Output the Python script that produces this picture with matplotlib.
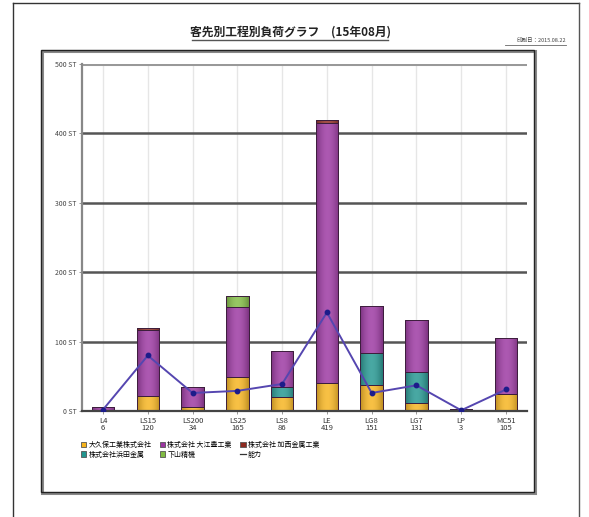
import numpy as np
import matplotlib
matplotlib.use('Agg')
import matplotlib.pyplot as plt
from matplotlib.lines import Line2D
from matplotlib.patches import Rectangle, Patch
from matplotlib.colors import to_rgb

plt.rcParams['font.family'] = ['Noto Sans CJK JP', 'DejaVu Sans']

# 品目と合計
items = ['L4', 'LS15', 'LS200', 'LS25', 'LS8', 'LE', 'LG8', 'LG7', 'LP', 'MC51']
totals = [6, 120, 34, 165, 86, 419, 151, 131, 3, 105]

# 客先別の負荷 (下から積み上げ)
okubo = [0, 22, 6, 49, 20, 41, 37, 12, 0, 25]
hamada = [0, 0, 0, 0, 14, 0, 47, 44, 0, 0]
oe = [6, 94, 28, 101, 52, 374, 67, 75, 3, 80]
kasai = [0, 4, 0, 0, 0, 4, 0, 0, 0, 0]
shimoyama = [0, 0, 0, 15, 0, 0, 0, 0, 0, 0]

# 能力
capacity = [2, 80, 26, 29, 39, 142, 26, 37, 1, 31]

names = ['大久保工業株式会社', '株式会社浜田金属', '株式会社 大江豊工業',
         '株式会社 加西金属工業', '下山精機']
colors = ['#f6b31c', '#21958f', '#9a34a0', '#8e2a20', '#80bb42']
series = [okubo, hamada, oe, kasai, shimoyama]

fig = plt.figure(figsize=(5.89, 5.17), dpi=100)
W, H = 589, 517

def fx(px):
    return px / W

def fy(py):
    return 1 - py / H

# 横方向のグラデーション (左が明るく右が暗い)
def gradient(col):
    c = np.array(to_rgb(col))
    t = np.linspace(0, 1, 32)
    light = c + (1 - c) * 0.18
    dark = c * 0.68
    k = np.clip(np.sin(t * np.pi * 0.8 + 0.3), 0, 1)[:, None]
    g = dark + (light - dark) * k
    return g[None, :, :]

# ページの枠と内側の枠
fig.add_artist(Line2D([fx(13), fx(13)], [fy(3), 0], color='#333333', lw=1.0))
fig.add_artist(Line2D([fx(13), fx(579)], [fy(3), fy(3)], color='#333333', lw=1.0))
fig.add_artist(Line2D([fx(579), fx(579)], [fy(3), 0], color='#555555', lw=1.0))
fig.add_artist(Rectangle((fx(42), fy(493)), fx(535) - fx(42), fy(51) - fy(493),
                         fill=False, ec='#888888', lw=2.2))
fig.add_artist(Rectangle((fx(41), fy(492)), fx(534) - fx(41), fy(50) - fy(492),
                         fill=False, ec='#222222', lw=1.0))

ax = fig.add_axes([fx(82), fy(411), fx(527) - fx(82), fy(64) - fy(411)])
x = np.arange(len(items))

# 背景の薄い縦線
for xi in x:
    ax.axvline(xi, color='#e6e6e6', lw=1.0, zorder=0)
for yv in [100, 200, 300, 400]:
    ax.axhline(yv, color='#555555', lw=1.8, zorder=1)
ax.axhline(500, color='#999999', lw=2.2, zorder=1)

bottom = np.zeros(len(items))
for vals, col in zip(series, colors):
    v = np.array(vals, dtype=float)
    bars = ax.bar(x, v, width=0.5, bottom=bottom, color=col, edgecolor='#3c1e3c',
                  linewidth=0.7, zorder=2)
    for b in bars:
        if b.get_height() <= 0:
            continue
        bx, by = b.get_x(), b.get_y()
        im = ax.imshow(gradient(col), extent=[bx, bx + b.get_width(), by, by + b.get_height()],
                       aspect='auto', zorder=2.1, interpolation='bilinear')
        im.set_clip_path(b)
        ax.add_patch(Rectangle((bx, by), b.get_width(), b.get_height(), fill=False,
                               ec='#3c1e3c', lw=0.7, zorder=2.2))
    bottom += v

ax.plot(x, capacity, color='#5546b0', lw=1.4, marker='o', markersize=3.2,
        markerfacecolor='#1c1c8a', markeredgecolor='#1c1c8a', zorder=3)

ax.set_xlim(-0.47, 9.47)
ax.set_ylim(0, 500)
ax.set_yticks([0, 100, 200, 300, 400, 500])
ax.set_yticklabels([f'{v} ST' for v in [0, 100, 200, 300, 400, 500]],
                   fontsize=5, color='#444444')
ax.set_xticks(x)
ax.set_xticklabels([f'{a}\n{b}' for a, b in zip(items, totals)],
                   fontsize=5.5, color='#333333', linespacing=0.9)
ax.tick_params(axis='both', length=2, width=0.6, color='#888888', pad=2)
for s in ['top', 'right']:
    ax.spines[s].set_visible(False)
ax.spines['left'].set_color('#888888')
ax.spines['left'].set_linewidth(1.6)
ax.spines['bottom'].set_color('#444444')
ax.spines['bottom'].set_linewidth(1.6)

# タイトルと日付
fig.text(fx(290), fy(32), '客先別工程別負荷グラフ　(15年08月)', ha='center',
         va='center', fontsize=8.5, fontweight='bold', color='#222222')
fig.add_artist(Line2D([fx(192), fx(388)], [fy(40), fy(40)], color='#555555', lw=1.0))
fig.text(fx(566), fy(41), '印刷日：2015.08.22', ha='right', va='center',
         fontsize=4, color='#444444')
fig.add_artist(Line2D([fx(505), fx(566)], [fy(45), fy(45)], color='#666666', lw=0.6))

# 凡例
handles = [Patch(fc=colors[0], ec='#555555', lw=0.6),
           Patch(fc=colors[1], ec='#555555', lw=0.6),
           Patch(fc=colors[2], ec='#555555', lw=0.6),
           Patch(fc=colors[4], ec='#555555', lw=0.6),
           Patch(fc=colors[3], ec='#555555', lw=0.6),
           Line2D([], [], color='#333333', lw=0.9)]
labels = [names[0], names[1], names[2], names[4], names[3], '能力']
fig.legend(handles, labels, ncol=3, loc='upper left',
           bbox_to_anchor=(fx(78), fy(438)), fontsize=5, frameon=False,
           handlelength=0.8, handleheight=0.9, handletextpad=0.3,
           columnspacing=1.2, labelspacing=0.25, borderaxespad=0)

fig.savefig('out.png', dpi=100)
